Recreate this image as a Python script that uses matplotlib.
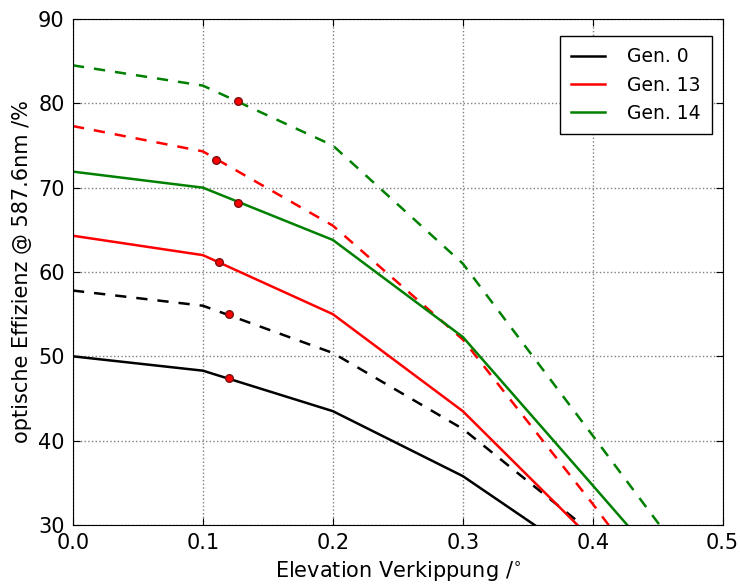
import matplotlib
matplotlib.use('Agg')
import matplotlib.pyplot as plt

x = [0.0, 0.1, 0.2, 0.3, 0.4, 0.5]

gen0_solid = [50.0, 48.3, 43.5, 35.8, 25.3, 15.0]
gen0_dashed = [57.8, 56.0, 50.4, 41.4, 29.0, 17.0]
gen13_solid = [64.3, 62.0, 55.0, 43.5, 28.2, 13.0]
gen13_dashed = [77.3, 74.3, 65.5, 52.0, 32.5, 12.0]
gen14_solid = [71.9, 70.0, 63.8, 52.3, 34.7, 17.0]
gen14_dashed = [84.5, 82.1, 75.0, 61.0, 40.6, 20.0]

# marked points (red dots)
mark_x = [0.120, 0.120, 0.112, 0.110, 0.127, 0.127]
mark_y = [47.4, 55.0, 61.2, 73.3, 68.2, 80.3]

labels = ['Gen. 0', 'Gen. 13', 'Gen. 14']
colors = ['black', 'red', 'green']

fig = plt.figure(figsize=(7.4, 5.84), dpi=100)
ax = fig.add_axes([0.0986, 0.101, 0.878, 0.8665])

solids = [gen0_solid, gen13_solid, gen14_solid]
dashes = [gen0_dashed, gen13_dashed, gen14_dashed]
for s, d, c, lab in zip(solids, dashes, colors, labels):
    ax.plot(x, s, color=c, lw=1.8, label=lab)
    ax.plot(x, d, color=c, lw=1.8, ls='--', dashes=(4.5, 4))

ax.plot(mark_x, mark_y, 'o', color='red', markeredgecolor='#7a1010',
        markersize=5.5, zorder=5)

ax.set_xlim(0, 0.5)
ax.set_ylim(30, 90)
ax.set_xticks([0.0, 0.1, 0.2, 0.3, 0.4, 0.5])
ax.set_yticks([30, 40, 50, 60, 70, 80, 90])
ax.grid(True, color='gray', ls=':', lw=1)
ax.tick_params(direction='in', top=True, right=True, labelsize=15, length=5, pad=6)
ax.set_xlabel(r'Elevation Verkippung /$^{\circ}$', fontsize=15)
ax.set_ylabel('optische Effizienz @ 587.6nm /%', fontsize=15)

leg = ax.legend(loc='upper right', fontsize=13.5, fancybox=False, edgecolor='black',
                framealpha=1, handlelength=1.8, handletextpad=1.2,
                borderpad=0.6, labelspacing=0.5, bbox_to_anchor=(0.998, 0.985))
leg.get_frame().set_linewidth(1)

fig.savefig('out.png', dpi=100)
